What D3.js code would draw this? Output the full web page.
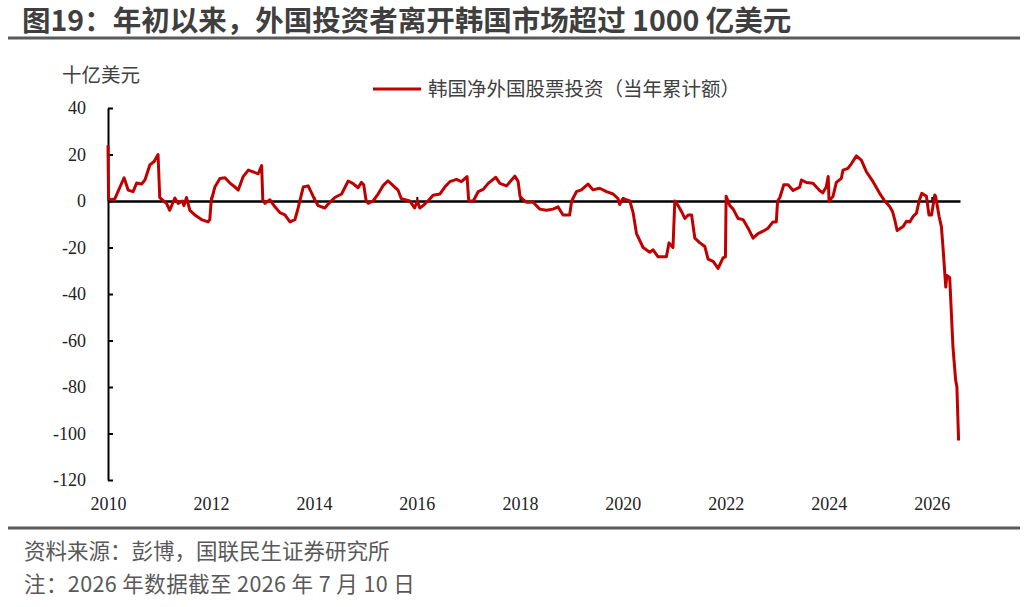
<!DOCTYPE html>
<html>
<head>
<meta charset="utf-8">
<script src="https://cdn.jsdelivr.net/npm/d3@7"></script>
<style>
  body { margin: 0; background: #fff; }
  svg { display: block; }
</style>
</head>
<body>
<div id="vis"></div>
<script>
const width = 1024;
const height = 607;

const titleText = "图19：年初以来，外国投资者离开韩国市场超过 1000 亿美元";
const unitText = "十亿美元";
const seriesName = "韩国净外国股票投资（当年累计额）";
const sourceText = "资料来源：彭博，国联民生证券研究所";
const noteText = "注：2026 年数据截至 2026 年 7 月 10 日";

const yTicks = [40, 20, 0, -20, -40, -60, -80, -100, -120];
const yearTicks = [2010, 2012, 2014, 2016, 2018, 2020, 2022, 2024, 2026];

// cumulative year-to-date net flow, USD bn
const dates = [
    "2010-01-01", "2010-01-05", "2010-01-28", "2010-02-19", "2010-04-25", "2010-05-24", "2010-06-28", "2010-07-23", "2010-08-27", "2010-09-20", "2010-10-25", "2010-11-24", "2010-12-22",
    "2011-01-03", "2011-02-20", "2011-03-15", "2011-04-20", "2011-05-14", "2011-06-12", "2011-06-24", "2011-07-12", "2011-08-05", "2011-09-09", "2011-10-26", "2011-12-12", "2011-12-24",
    "2012-01-03", "2012-01-29", "2012-03-05", "2012-04-10", "2012-05-15", "2012-06-20", "2012-07-13", "2012-08-17", "2012-09-22", "2012-10-27", "2012-12-02", "2012-12-26",
    "2013-01-03", "2013-01-19", "2013-02-23", "2013-03-30", "2013-05-05", "2013-06-09", "2013-07-15", "2013-08-19", "2013-09-11", "2013-10-17", "2013-11-21", "2013-12-15",
    "2014-01-03", "2014-01-31", "2014-03-19", "2014-04-09", "2014-05-29", "2014-07-16", "2014-09-01", "2014-10-06", "2014-11-10", "2014-12-04", "2014-12-20",
    "2015-01-05", "2015-01-20", "2015-02-24", "2015-04-01", "2015-05-06", "2015-06-10", "2015-07-28", "2015-08-20", "2015-09-13", "2015-11-11", "2015-12-16",
    "2016-01-04", "2016-01-22", "2016-02-14", "2016-03-20", "2016-04-25", "2016-06-12", "2016-07-17", "2016-08-22", "2016-10-08", "2016-11-12", "2016-12-22",
    "2017-01-03", "2017-02-04", "2017-03-11", "2017-04-16", "2017-05-21", "2017-07-14", "2017-08-12", "2017-09-28", "2017-11-26", "2017-12-19",
    "2018-01-02", "2018-01-24", "2018-02-17", "2018-04-05", "2018-05-22", "2018-07-08", "2018-08-24", "2018-09-28", "2018-11-03", "2018-12-20",
    "2019-01-03", "2019-02-06", "2019-03-13", "2019-04-29", "2019-06-03", "2019-07-21", "2019-09-07", "2019-10-24", "2019-11-28", "2019-12-10", "2019-12-26",
    "2020-01-03", "2020-02-20", "2020-03-14", "2020-04-07", "2020-05-24", "2020-07-10", "2020-08-03", "2020-09-07", "2020-11-05", "2020-11-24", "2020-12-22",
    "2021-01-04", "2021-01-28", "2021-02-21", "2021-03-16", "2021-04-09", "2021-05-03", "2021-05-26", "2021-07-01", "2021-08-05", "2021-08-28", "2021-10-03", "2021-11-07", "2021-12-12", "2021-12-29",
    "2022-01-03", "2022-01-29", "2022-02-22", "2022-03-29", "2022-05-03", "2022-06-08", "2022-07-13", "2022-08-17", "2022-09-22", "2022-10-27", "2022-12-01", "2022-12-25",
    "2023-01-03", "2023-01-19", "2023-02-16", "2023-03-18", "2023-04-23", "2023-06-09", "2023-06-21", "2023-07-26", "2023-09-11", "2023-10-28", "2023-11-20", "2023-12-14", "2023-12-28",
    "2024-01-03", "2024-01-31", "2024-02-24", "2024-03-30", "2024-04-11", "2024-05-16", "2024-06-09", "2024-07-15", "2024-08-19", "2024-09-24", "2024-11-10", "2024-12-27",
    "2025-02-01", "2025-03-08", "2025-03-28", "2025-04-13", "2025-04-30", "2025-06-11", "2025-07-05", "2025-07-29", "2025-08-21", "2025-09-14", "2025-10-03", "2025-10-22", "2025-11-24", "2025-12-12", "2025-12-30",
    "2026-01-22", "2026-01-28", "2026-02-22", "2026-03-10", "2026-03-21", "2026-04-10", "2026-04-18", "2026-05-08", "2026-05-31", "2026-06-19", "2026-06-28", "2026-07-10"
];
const values = [
    24, 1, 0.5, 1, 10, 4.7, 4, 7.7, 7.3, 9, 15.5, 17, 20,
    1.5, -1, -4, 1.3, -1, 0, -2, 1.5, -4, -6, -8, -9, -8,
    0, 6, 9.7, 10, 7.7, 6, 4.7, 10.5, 13.3, 12.5, 11.7, 15.2,
    0.5, -1, 0.5, -2.5, -5, -6, -9, -8, -3, 6, 6.5, 3.5,
    1, -2, -3, -1.5, 1.5, 3, 8.6, 7.5, 5.7, 8, 7,
    0.5, -1, 0, 3, 6.6, 8.7, 6, 4.7, 1, 0, -3,
    0, -3, -2, 0, 2.5, 3, 6, 8.3, 9.3, 8.3, 10.5,
    0, 0, 4, 5, 7.6, 10.2, 7.6, 6.5, 10.7, 8.5,
    2, 0.5, -0.5, -0.5, -3.5, -4, -3.5, -2.5, -6, -6,
    0, 4, 4.8, 7.3, 4.8, 5.5, 4, 3, 1, -1.5, 0.5,
    1, 0, -5, -14, -20, -22, -21, -24, -24, -18, -20,
    0, -2, -4.6, -7.5, -6, -6, -16, -18, -19.6, -25, -26, -29, -24.5, -24,
    2, -2, -3.5, -7.5, -8, -11.7, -16, -14, -13, -11.7, -9, -9,
    0, 1.5, 7, 7, 4.5, 6, 9, 8, 7.6, 4.5, 3.5, 6, 10.5,
    0, 2, 8, 9.7, 13.3, 14, 16, 19.4, 17.6, 12.6, 8.3, 3.3,
    0, -2.4, -4.5, -8, -12.7, -11, -8.7, -9, -6.7, -5.2, 0, 3.3, 2, -6, -6,
    2.6, 2, -6.7, -11, -19.6, -37, -32, -33, -62.7, -77, -80, -103
];

const parseDate = d3.timeParse("%Y-%m-%d");
const data = dates.map((d, i) => ({ date: parseDate(d), value: values[i] }));

const plot = { left: 108, right: 960, top: 108, bottom: 480 };

const svg = d3.select("#vis").append("svg")
    .attr("width", width)
    .attr("height", height);

const cjk = "'Noto Sans CJK SC', 'Noto Sans', sans-serif";
const serif = "'Liberation Serif', 'DejaVu Serif', serif";

// title + rules
svg.append("text")
    .attr("x", 22)
    .attr("y", 31)
    .attr("fill", "#3f3f3f")
    .style("font-family", cjk)
    .style("font-weight", "bold")
    .style("font-size", "28.5px")
    .text(titleText);

svg.append("line")
    .attr("x1", 8).attr("x2", 1020)
    .attr("y1", 38).attr("y2", 38)
    .attr("stroke", "#5a5a5a")
    .attr("stroke-width", 3);

svg.append("line")
    .attr("x1", 8).attr("x2", 1020)
    .attr("y1", 528).attr("y2", 528)
    .attr("stroke", "#5a5a5a")
    .attr("stroke-width", 3);

svg.append("text")
    .attr("x", 24)
    .attr("y", 559)
    .attr("fill", "#595959")
    .style("font-family", cjk)
    .style("font-size", "21.5px")
    .text(sourceText);

svg.append("text")
    .attr("x", 24)
    .attr("y", 592)
    .attr("fill", "#595959")
    .style("font-family", cjk)
    .style("font-size", "21.5px")
    .style("letter-spacing", "0.4px")
    .text(noteText);

// scales
const x = d3.scaleTime()
    .domain([new Date(2010, 0, 1), new Date(2026, 6, 20)])
    .range([plot.left, plot.right]);

const y = d3.scaleLinear()
    .domain([-120, 40])
    .range([plot.bottom, plot.top]);

// unit label
svg.append("text")
    .attr("x", 62)
    .attr("y", 82)
    .attr("fill", "#404040")
    .style("font-family", cjk)
    .style("font-size", "19.5px")
    .text(unitText);

// y axis
const yAxis = svg.append("g")
    .attr("transform", `translate(${plot.left},0)`)
    .call(d3.axisLeft(y)
        .tickValues(yTicks)
        .tickFormat(d => String(d))
        .tickSizeInner(-5)
        .tickSizeOuter(0)
        .tickPadding(22));
yAxis.select(".domain").attr("stroke", "#000").attr("stroke-width", 2);
yAxis.selectAll(".tick line").attr("stroke", "#000").attr("stroke-width", 2);
yAxis.selectAll(".tick text")
    .attr("fill", "#222")
    .style("font-family", serif)
    .style("font-size", "18px");

// x labels along the bottom
const xLabels = svg.append("g")
    .attr("transform", `translate(0,${plot.bottom + 17})`)
    .call(d3.axisBottom(x)
        .tickValues(yearTicks.map(yr => new Date(yr, 0, 1)))
        .tickFormat(d3.timeFormat("%Y"))
        .tickSize(0)
        .tickPadding(0));
xLabels.select(".domain").remove();
xLabels.selectAll(".tick text")
    .attr("fill", "#222")
    .style("font-family", serif)
    .style("font-size", "18px");

// zero line with small year ticks
const zeroAxis = svg.append("g")
    .attr("transform", `translate(0,${y(0)})`)
    .call(d3.axisTop(x)
        .tickValues(yearTicks.map(yr => new Date(yr, 0, 1)))
        .tickFormat("")
        .tickSizeInner(4)
        .tickSizeOuter(0));
zeroAxis.select(".domain").attr("stroke", "#000").attr("stroke-width", 2.5);
zeroAxis.selectAll(".tick line").attr("stroke", "#000").attr("stroke-width", 2);

// series
const line = d3.line()
    .x(d => x(d.date))
    .y(d => y(d.value));

svg.append("path")
    .datum(data)
    .attr("fill", "none")
    .attr("stroke", "#c00000")
    .attr("stroke-width", 3)
    .attr("stroke-linejoin", "round")
    .attr("d", line);

// legend
const legend = svg.append("g").attr("transform", "translate(373,89)");
legend.append("line")
    .attr("x1", 0).attr("x2", 48)
    .attr("stroke", "#c00000")
    .attr("stroke-width", 3);
legend.append("text")
    .attr("x", 55)
    .attr("dy", "0.35em")
    .attr("fill", "#404040")
    .style("font-family", cjk)
    .style("font-size", "19.5px")
    .text(seriesName);
</script>
</body>
</html>
